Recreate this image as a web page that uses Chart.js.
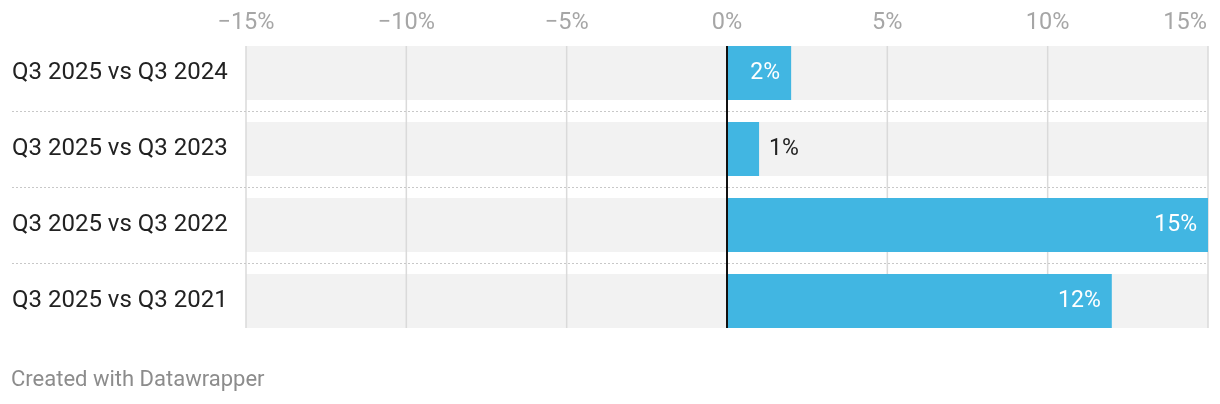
<!DOCTYPE html>
<html>
<head>
<meta charset="utf-8">
<script src="https://cdn.jsdelivr.net/npm/chart.js@4"></script>
<style>
  html, body { margin: 0; padding: 0; background: #fff; }
  #wrap { position: relative; width: 1220px; height: 404px; }
  #note { position: absolute; left: 11px; top: 366px; font: 22px Roboto, sans-serif; color: #8c8c8c; }
</style>
</head>
<body>
<div id="wrap">
  <canvas id="chart" width="1220" height="404"></canvas>
  <div id="note">Created with Datawrapper</div>
</div>
<script>
const categories = ['Q3 2025 vs Q3 2024', 'Q3 2025 vs Q3 2023', 'Q3 2025 vs Q3 2022', 'Q3 2025 vs Q3 2021'];
const changes = [2, 1, 15, 12];
const xTicks = [-15, -10, -5, 0, 5, 10, 15];

const xMin = xTicks[0];
const xMax = xTicks[xTicks.length - 1];
const BLUE = '#41b6e2';

function pct(v) {
    return (v < 0 ? '\u2212' + Math.abs(v) : v) + '%';
}

// gridlines + separators go between the grey rows and the blue bars
const decor = {
    id: 'decor',
    afterDatasetDraw(chart, args) {
        if (args.index !== 1) return;
        const ctx = chart.ctx;
        const x = chart.scales.x;
        const rows = chart.getDatasetMeta(1).data;
        const top = rows[0].y - rows[0].height / 2;
        const bottom = rows[rows.length - 1].y + rows[rows.length - 1].height / 2;
        ctx.save();
        ctx.strokeStyle = '#dadada';
        ctx.lineWidth = 1.5;
        xTicks.forEach(v => {
            if (v === 0) return;
            const px = x.getPixelForValue(v);
            ctx.beginPath();
            ctx.moveTo(px, top);
            ctx.lineTo(px, bottom);
            ctx.stroke();
        });
        ctx.strokeStyle = '#c8c8c8';
        ctx.lineWidth = 1;
        ctx.setLineDash([2, 2]);
        for (let i = 0; i < rows.length - 1; i++) {
            const y = Math.round((rows[i].y + rows[i + 1].y) / 2) + 0.5;
            ctx.beginPath();
            ctx.moveTo(12, y);
            ctx.lineTo(chart.chartArea.right - 2, y);
            ctx.stroke();
        }
        ctx.restore();
    },
    afterDatasetsDraw(chart) {
        const ctx = chart.ctx;
        const x = chart.scales.x;
        const rows = chart.getDatasetMeta(1).data;
        const top = rows[0].y - rows[0].height / 2;
        const bottom = rows[rows.length - 1].y + rows[rows.length - 1].height / 2;
        ctx.save();
        // zero line
        const zx = x.getPixelForValue(0);
        ctx.strokeStyle = '#111';
        ctx.lineWidth = 2;
        ctx.beginPath();
        ctx.moveTo(zx, top);
        ctx.lineTo(zx, bottom);
        ctx.stroke();

        // tick labels on top
        ctx.font = '23.5px Roboto, sans-serif';
        ctx.fillStyle = '#a6a6a6';
        ctx.textBaseline = 'middle';
        xTicks.forEach(v => {
            const px = x.getPixelForValue(v);
            const t = pct(v);
            const w = ctx.measureText(t).width;
            if (px + w / 2 > chart.width - 12) {
                ctx.textAlign = 'right';
                ctx.fillText(t, chart.width - 13, 23);
            } else {
                ctx.textAlign = 'center';
                ctx.fillText(t, px, 23);
            }
        });

        // value labels
        ctx.font = '23px Roboto, sans-serif';
        chart.getDatasetMeta(0).data.forEach((bar, i) => {
            const t = pct(Math.round(changes[i]));
            const w = ctx.measureText(t).width;
            if (bar.x - bar.base > w + 22) {
                ctx.fillStyle = '#fff';
                ctx.textAlign = 'right';
                ctx.fillText(t, bar.x - 11, bar.y);
            } else {
                ctx.fillStyle = '#222';
                ctx.textAlign = 'left';
                ctx.fillText(t, bar.x + 10, bar.y);
            }
        });
        ctx.restore();
    }
};

new Chart(document.getElementById('chart'), {
    type: 'bar',
    data: {
        labels: categories,
        datasets: [
            {
                label: 'Change',
                data: changes,
                backgroundColor: BLUE,
                order: 1
            },
            {
                label: 'row',
                data: categories.map(() => [xMin, xMax]),
                backgroundColor: '#f2f2f2',
                order: 2
            }
        ]
    },
    options: {
        indexAxis: 'y',
        responsive: false,
        animation: false,
        datasets: { bar: { grouped: false, categoryPercentage: 1, barPercentage: 54 / 76 } },
        layout: { padding: { left: 12, right: 12, top: 35, bottom: 65 } },
        plugins: { legend: { display: false }, tooltip: { enabled: false } },
        scales: {
            x: {
                display: false,
                min: xMin,
                max: xMax
            },
            y: {
                grid: { display: false },
                border: { display: false },
                ticks: {
                    crossAlign: 'far',
                    color: '#222',
                    font: { family: 'Roboto', size: 24 }
                },
                afterFit(scale) { scale.width = 234; }
            }
        }
    },
    plugins: [decor]
});
</script>
</body>
</html>
